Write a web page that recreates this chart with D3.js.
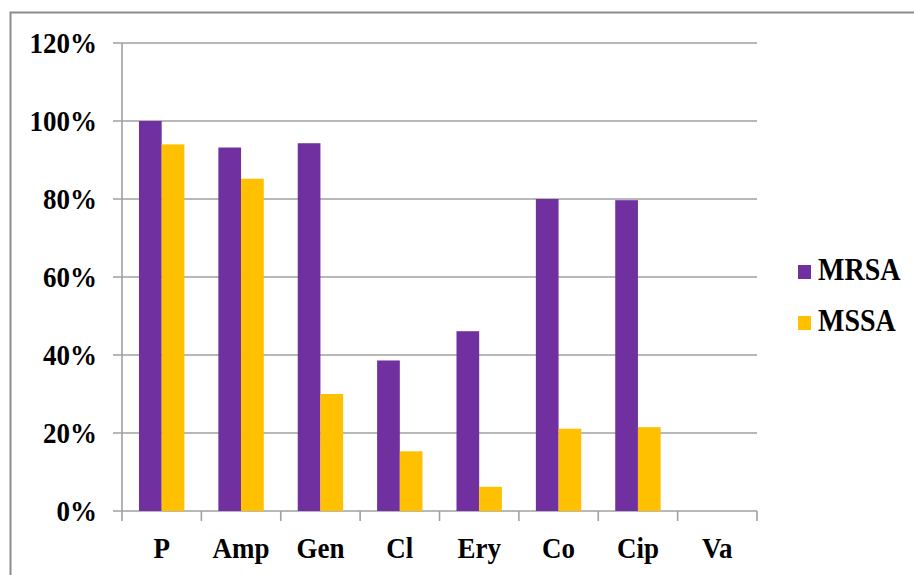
<!DOCTYPE html>
<html><head><meta charset="utf-8">
<script src="https://cdn.jsdelivr.net/npm/d3@7"></script>
<style>body{margin:0;background:#fff}svg{display:block}
text{font-family:"Liberation Serif","Times New Roman",serif;font-weight:bold;fill:#000}</style>
</head><body>
<svg id="c" width="914" height="575"></svg>
<script>
const categories = ["P","Amp","Gen","Cl","Ery","Co","Cip","Va"];
const seriesNames = ["MRSA","MSSA"];
const mrsa = [100, 93.2, 94.3, 38.6, 46.1, 80, 79.7, 0];
const mssa = [94.0, 85.2, 30.0, 15.3, 6.2, 21.1, 21.5, 0];
const yTicks = [0,20,40,60,80,100,120];
const colors = ["#7030A0","#FFC000"];

const svg = d3.select("#c");
const m = {l:122, r:757, t:43, b:511};
const vs = 1.12; // vertical stretch of glyphs

// outer border
svg.append("path").attr("d","M10.5,585 V12.5 H930")
  .attr("fill","none").attr("stroke","#8c8c8c").attr("stroke-width",2);

const x = d3.scaleBand().domain(categories).range([m.l,m.r]).paddingInner(0.428).paddingOuter(0.214);
const xs = d3.scaleBand().domain(seriesNames).range([0,x.bandwidth()]);
const y = d3.scaleLinear().domain([0,120]).range([m.b,m.t]);

// gridlines
svg.append("g").selectAll("line").data(yTicks).join("line")
  .attr("x1",m.l-9).attr("x2",m.r).attr("y1",d=>y(d)).attr("y2",d=>y(d))
  .attr("stroke","#a0a0a0").attr("stroke-width",1.6);

// y axis line
svg.append("line").attr("x1",m.l).attr("x2",m.l).attr("y1",m.t).attr("y2",m.b)
  .attr("stroke","#a0a0a0").attr("stroke-width",1.6);

// x tick marks at category boundaries
const bounds = categories.map(c=>x(c)-x.step()*x.paddingOuter()).concat([m.r]);
svg.append("g").selectAll("line").data(bounds).join("line")
  .attr("x1",d=>d).attr("x2",d=>d).attr("y1",m.b).attr("y2",m.b+10)
  .attr("stroke","#a0a0a0").attr("stroke-width",1.6);

// bars
const data = categories.map((c,i)=>({c, vals:[mrsa[i],mssa[i]]}));
const g = svg.append("g").selectAll("g").data(data).join("g")
  .attr("transform",d=>`translate(${x(d.c)},0)`);
g.selectAll("rect").data(d=>d.vals.map((v,j)=>({v,j}))).join("rect")
  .attr("x",d=>xs(seriesNames[d.j])).attr("width",xs.bandwidth())
  .attr("y",d=>y(d.v)).attr("height",d=>m.b-y(d.v))
  .attr("fill",d=>colors[d.j]);

// y labels
svg.append("g").selectAll("text").data(yTicks).join("text")
  .attr("transform",d=>`translate(97,${y(d)+10}) scale(1,${vs})`).attr("text-anchor","end")
  .attr("font-size",27)
  .text(d=>d+"%");

// x labels
svg.append("g").selectAll("text").data(categories).join("text")
  .attr("transform",d=>`translate(${x(d)+x.bandwidth()/2},558) scale(1,${vs})`).attr("text-anchor","middle")
  .attr("font-size",27)
  .text(d=>d);

// legend
const lg = svg.append("g").selectAll("g").data(seriesNames).join("g")
  .attr("transform",(d,i)=>`translate(798,${265+i*51})`);
lg.append("rect").attr("width",13).attr("height",14).attr("fill",(d,i)=>colors[i]);
lg.append("text").attr("transform",`translate(20,15) scale(1,${vs})`)
  .attr("font-size",28)
  .text(d=>d);
</script>
</body></html>
